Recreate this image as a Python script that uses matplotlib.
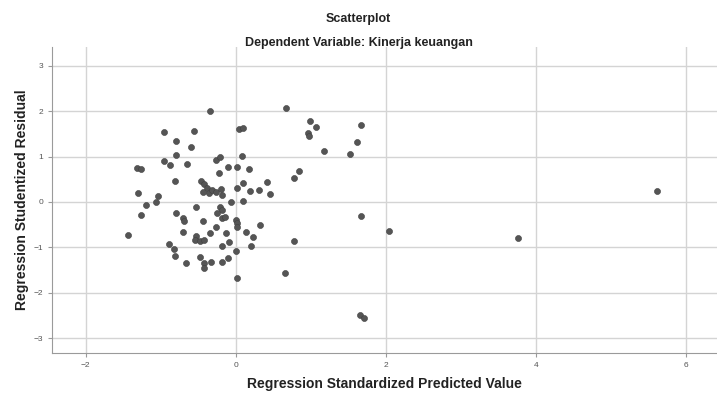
import matplotlib.pyplot as plt

# Regression Standardized Predicted Value / Studentized Residual
predicted = [
    -0.34, -0.96, -0.56, 0.04, 0.10, -0.80, -0.60, -0.80, -0.96, -0.88,
    -0.65, -1.32, -1.27, -0.26, -0.21, 0.08, -0.10, 0.01, 0.18, -0.23,
    -0.81, -0.47, -0.42, -0.39, -0.44, -0.36, -0.32, -0.26, -0.20, -0.19,
    0.10, 0.01, 0.19, 0.31, 0.42, 0.46, -1.30, -1.04, -1.07, -1.20,
    -1.27, -1.44, -0.53, -0.21, -0.19, -0.06, 0.10, -0.25, -0.19, -0.14,
    -0.80, -0.70, -0.69, -0.44, -0.26, 0.00, 0.02, 0.01, 0.32, -0.71,
    -0.53, -0.55, -0.48, -0.42, -0.35, -0.13, -0.09, -0.18, 0.13, 0.23,
    0.20, -0.89, -0.82, -0.81, -0.67, -0.48, -0.42, -0.42, -0.33, -0.19,
    -0.10, 0.00, 0.02, 0.67, 0.99, 1.07, 0.96, 0.97, 1.67, 1.61,
    1.17, 1.52, 0.84, 0.77, 0.78, 0.66, 1.67, 2.04, 1.65, 1.71,
    5.62, 3.76,
]
residual = [
    2.01, 1.55, 1.57, 1.60, 1.63, 1.35, 1.21, 1.04, 0.91, 0.82,
    0.84, 0.75, 0.72, 0.93, 1.00, 1.02, 0.77, 0.77, 0.73, 0.63,
    0.46, 0.46, 0.39, 0.30, 0.23, 0.19, 0.26, 0.23, 0.29, 0.15,
    0.42, 0.31, 0.25, 0.26, 0.45, 0.18, 0.19, 0.13, 0.01, -0.07,
    -0.28, -0.73, -0.11, -0.10, -0.17, 0.01, 0.02, -0.25, -0.36, -0.33,
    -0.25, -0.36, -0.41, -0.43, -0.55, -0.40, -0.47, -0.55, -0.51, -0.66,
    -0.76, -0.84, -0.85, -0.84, -0.69, -0.68, -0.88, -0.96, -0.66, -0.77,
    -0.97, -0.93, -1.04, -1.19, -1.35, -1.22, -1.35, -1.46, -1.32, -1.32,
    -1.23, -1.09, -1.68, 2.07, 1.79, 1.65, 1.53, 1.46, 1.69, 1.33,
    1.13, 1.06, 0.68, 0.54, -0.85, -1.56, -0.30, -0.63, -2.49, -2.55,
    0.25, -0.80,
]
x_ticks = [-2, 0, 2, 4, 6]
y_ticks = [-3, -2, -1, 0, 1, 2, 3]

plt.rcParams['font.family'] = ['Liberation Sans', 'DejaVu Sans']

fig = plt.figure(figsize=(7.17, 3.94), dpi=100)
ax = fig.add_axes([0.0725, 0.104, 0.927, 0.777])

ax.scatter(predicted, residual, s=19, color='#555555', edgecolors='#404040',
           linewidths=0.4, zorder=3)

ax.set_xlim(-2.45, 6.41)
ax.set_ylim(-3.33, 3.42)
ax.set_xticks(x_ticks)
ax.set_yticks(y_ticks)
ax.grid(True, color='#d4d4d4', linewidth=1.0)
ax.set_axisbelow(True)

for side in ['top', 'right']:
    ax.spines[side].set_visible(False)
for side in ['left', 'bottom']:
    ax.spines[side].set_color('#9a9a9a')
ax.tick_params(colors='#9a9a9a', labelcolor='#555555', labelsize=6,
               length=3, width=0.8)

ax.set_xlabel('Regression Standardized Predicted Value', fontsize=10,
              fontweight='bold', color='#222222', labelpad=6)
ax.set_ylabel('Regression Studentized Residual', fontsize=10,
              fontweight='bold', color='#222222', labelpad=3)

fig.text(0.5, 0.952, 'Scatterplot', ha='center', va='center',
         fontsize=9, fontweight='bold', color='#222222')
fig.text(0.5, 0.892, 'Dependent Variable: Kinerja keuangan', ha='center',
         va='center', fontsize=9, fontweight='bold', color='#222222')

fig.savefig('out.png', dpi=100)
